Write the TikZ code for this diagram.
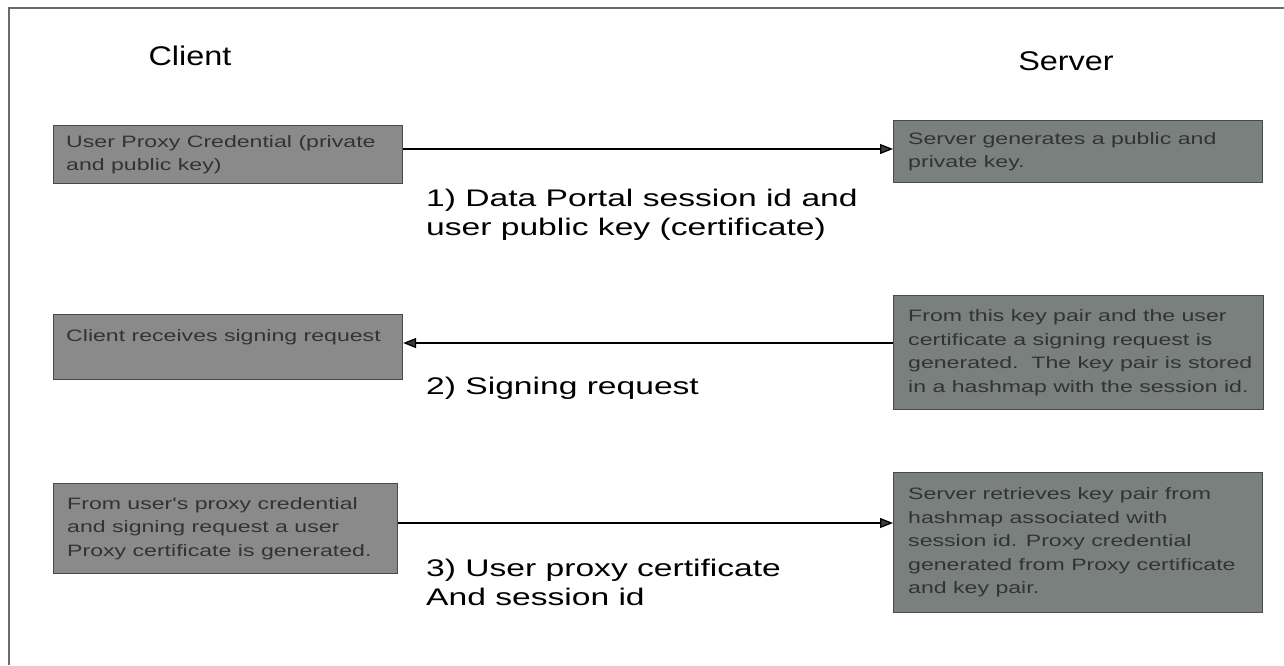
\documentclass[tikz,border=0pt]{standalone}
\usepackage{fontspec}
\setmainfont{Liberation Sans}
\newfontfamily\widesans{Liberation Sans}[FakeStretch=1.4]
\newfontfamily\headsans{Liberation Sans}[FakeStretch=1.2]
\usetikzlibrary{arrows.meta,calc}
\definecolor{clientfill}{HTML}{8A8A8A}
\definecolor{serverfill}{HTML}{7A807D}
\definecolor{boxborder}{HTML}{4A4A4A}
\definecolor{boxtext}{HTML}{333333}
\definecolor{framecol}{HTML}{6A6A6A}
\definecolor{arrowgray}{HTML}{3C3C3C}
\begin{document}
\begin{tikzpicture}[x=1pt,y=-1pt,
  box/.style={draw=boxborder, line width=1.2pt, rectangle, anchor=north west, inner sep=0pt},
  cbox/.style={box, fill=clientfill},
  sbox/.style={box, fill=serverfill},
  btext/.style={anchor=west, inner sep=0pt, align=left, text=boxtext, font=\widesans\fontsize{16.5}{23.5}\selectfont},
  msg/.style={anchor=base west, inner sep=0pt, align=left, font=\widesans\fontsize{24}{29}\selectfont},
  head/.style={anchor=base, inner sep=0pt, font=\headsans\fontsize{27}{30}\selectfont},
  arr/.style={line width=1.3pt, draw=black, -{Triangle[length=13pt,width=10pt,fill=arrowgray]}},
  frameline/.style={draw=framecol, line width=1.4pt}]
\useasboundingbox (0,0) rectangle (1284,665);
\fill[white] (0,0) rectangle (1284,665);
% frame
\coordinate (fTL) at (9,8);
\coordinate (fTR) at (1284,8);
\coordinate (fBL) at (9,665);
\draw[frameline] (fBL) -- (fTL) -- (fTR);
% headings
\node[head] (client) at (190,65) {Client};
\node[head] (server) at (1066,70) {Server};
% boxes
\node[cbox, minimum width=349pt, minimum height=58pt] (C1) at (53,125) {};
\node[sbox, minimum width=369pt, minimum height=62pt] (S1) at (893,120) {};
\node[cbox, minimum width=349pt, minimum height=65pt] (C2) at (53,314) {};
\node[sbox, minimum width=370pt, minimum height=114pt] (S2) at (893,295) {};
\node[cbox, minimum width=344pt, minimum height=90pt] (C3) at (53,483) {};
\node[sbox, minimum width=369pt, minimum height=140pt] (S3) at (893,472) {};
% box texts
\node[btext] (C1t) at ($(C1.west)+(13,0)$) {User Proxy Credential (private\\and public key)};
\node[btext] (S1t) at ($(S1.west)+(15,0)$) {Server generates a public and\\private key.};
\node[btext, anchor=base west] (C2t) at ($(C2.north west)+(13,27)$) {Client receives signing request};
\node[btext] (S2t) at ($(S2.west)+(15,0)$) {From this key pair and the user\\certificate a signing request is\\generated.\ \ The key pair is stored\\in a hashmap with the session id.};
\node[btext] (C3t) at ($(C3.west)+(14,0)$) {From user's proxy credential\\and signing request a user\\Proxy certificate is generated.};
\node[btext] (S3t) at ($(S3.west)+(15,0)$) {Server retrieves key pair from\\hashmap associated with\\session id. Proxy credential\\generated from Proxy certificate\\and key pair.};
% arrows
\coordinate (y1) at (0,149);
\coordinate (y2) at (0,343);
\coordinate (y3) at (0,523);
\draw[arr] (C1.east |- y1) -- (S1.west |- y1);
\draw[arr] (S2.west |- y2) -- (C2.east |- y2);
\draw[arr] (C3.east |- y3) -- (S3.west |- y3);
% message labels (base anchor = baseline of last line)
\node[msg] (m1) at (426,235) {1) Data Portal session id and\\user public key (certificate)};
\node[msg] (m2) at (426,394) {2) Signing request};
\node[msg] (m3) at (426,605) {3) User proxy certificate\\And session id};
\end{tikzpicture}
\end{document}
